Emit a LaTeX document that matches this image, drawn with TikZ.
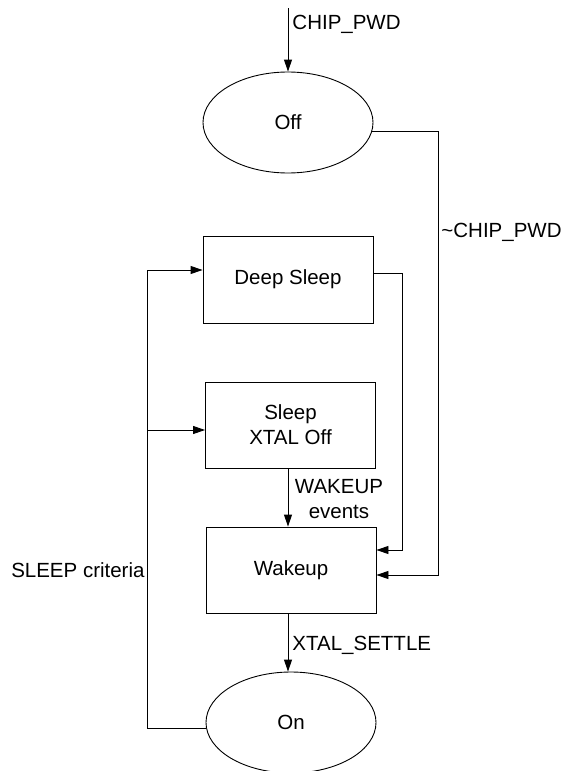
\documentclass[tikz,border=0pt]{standalone}
\usepackage{fontspec}
\setmainfont{Liberation Sans}
\usetikzlibrary{shapes.geometric,arrows.meta}
\begin{document}
\begin{tikzpicture}[x=1pt, y=-1pt, line width=0.9pt,
    font=\fontsize{20.5}{25}\selectfont,
    state/.style={ellipse, draw, minimum width=170pt, minimum height=101pt, inner sep=0pt},
    box/.style={rectangle, draw, minimum width=170pt, minimum height=86pt, inner sep=0pt},
    lbl/.style={inner sep=0pt},
    arr/.style={-{Triangle[length=12pt,width=8pt]}}]

    \useasboundingbox (0,0) rectangle (570,771);

    \node[state] (off) at (288, 122.5) {Off};
    \node[box, minimum height=87pt] (deep) at (288, 279.5) {Deep Sleep};
    \node[box, align=center] (sleep) at (290.5, 425) {Sleep\\XTAL Off};
    \node[box] (wake) at (291, 570) {Wakeup};
    \node[state] (on) at (291, 722.5) {On};

    \coordinate (top) at (288, 8);
    \coordinate (lx) at (147, 0);
    \coordinate (din) at ([yshift=9.5pt]deep.west);
    \coordinate (sin) at ([yshift=-5pt]sleep.west);
    \coordinate (dout) at ([yshift=6.5pt]deep.east);
    \coordinate (win1) at ([yshift=20pt]wake.east);
    \coordinate (win2) at ([yshift=-5pt]wake.east);

    \draw[arr] (top) -- (off);
    \draw[arr] (off.-6) -- ++(66,0) |- (win2);
    \draw[arr] (dout) -- ++(29,0) |- (win1);
    \draw[arr] (sleep.south -| off) -- (wake.north -| off);
    \draw[arr] (wake.south -| off) -- (on.north -| off);
    \draw[arr] (on.184) -- (on.184 -| lx) |- (din);
    \draw[arr] (sin -| lx) -- (sin);

    \node[lbl, anchor=base west] (chip) at (292, 29.5) {CHIP\_PWD};
    \node[lbl, anchor=base west] (nchip) at (441, 237) {\textasciitilde CHIP\_PWD};
    \node[lbl, anchor=north, align=center] (wev) at (339, 479) {WAKEUP\\events};
    \node[lbl, anchor=base west] (settle) at (292, 650) {XTAL\_SETTLE};
    \node[lbl, anchor=base east] (crit) at (145, 577) {SLEEP criteria};

\end{tikzpicture}
\end{document}
